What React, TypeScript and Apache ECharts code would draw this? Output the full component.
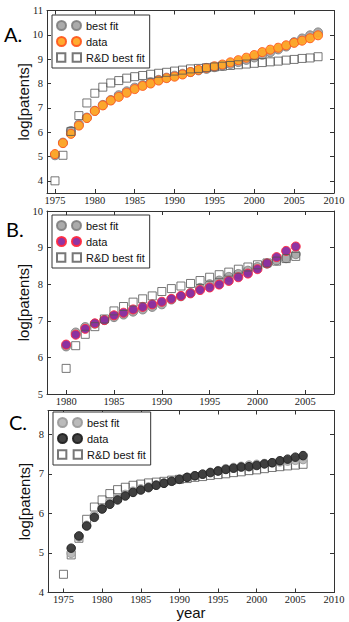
import React, { useEffect, useRef } from 'react';
import * as echarts from 'echarts';

// Panel A
const yearsA = [1975, 1976, 1977, 1978, 1979, 1980, 1981, 1982, 1983, 1984, 1985, 1986, 1987, 1988, 1989, 1990, 1991, 1992, 1993, 1994, 1995, 1996, 1997, 1998, 1999, 2000, 2001, 2002, 2003, 2004, 2005, 2006, 2007, 2008];
const bestFitA = [5.05, 5.57, 6.05, 6.32, 6.6, 6.88, 7.12, 7.32, 7.52, 7.68, 7.83, 7.94, 8.05, 8.15, 8.24, 8.32, 8.4, 8.47, 8.54, 8.6, 8.67, 8.73, 8.8, 8.88, 8.97, 9.07, 9.18, 9.28, 9.4, 9.52, 9.7, 9.85, 9.98, 10.1];
const dataA = [5.1, 5.55, 5.93, 6.27, 6.58, 6.87, 7.1, 7.3, 7.45, 7.62, 7.77, 7.9, 8.0, 8.12, 8.22, 8.28, 8.37, 8.47, 8.56, 8.64, 8.71, 8.78, 8.87, 8.96, 9.06, 9.17, 9.29, 9.39, 9.47, 9.57, 9.67, 9.76, 9.86, 9.98];
const rdA = [4.0, 5.05, 6.03, 6.68, 7.2, 7.6, 7.85, 8.02, 8.12, 8.22, 8.28, 8.33, 8.38, 8.42, 8.46, 8.51, 8.55, 8.6, 8.62, 8.65, 8.68, 8.71, 8.74, 8.77, 8.8, 8.83, 8.86, 8.89, 8.92, 8.96, 8.99, 9.03, 9.05, 9.1];

// Panel B
const yearsB = [1980, 1981, 1982, 1983, 1984, 1985, 1986, 1987, 1988, 1989, 1990, 1991, 1992, 1993, 1994, 1995, 1996, 1997, 1998, 1999, 2000, 2001, 2002, 2003, 2004];
const bestFitB = [6.3, 6.68, 6.83, 6.92, 7.02, 7.1, 7.17, 7.25, 7.31, 7.38, 7.45, 7.58, 7.67, 7.76, 7.9, 8.0, 8.1, 8.2, 8.28, 8.37, 8.47, 8.56, 8.65, 8.71, 8.82];
const dataB = [6.35, 6.62, 6.78, 6.93, 7.02, 7.15, 7.22, 7.31, 7.38, 7.45, 7.52, 7.6, 7.68, 7.75, 7.84, 7.91, 7.99, 8.09, 8.19, 8.29, 8.41, 8.57, 8.74, 8.91, 9.03];
const rdB = [5.7, 6.32, 6.63, 6.84, 7.05, 7.27, 7.39, 7.51, 7.6, 7.68, 7.8, 7.88, 7.95, 8.02, 8.1, 8.19, 8.26, 8.33, 8.41, 8.47, 8.53, 8.58, 8.63, 8.7, 8.76];

// Panel C
const yearsC = [1976, 1977, 1978, 1979, 1980, 1981, 1982, 1983, 1984, 1985, 1986, 1987, 1988, 1989, 1990, 1991, 1992, 1993, 1994, 1995, 1996, 1997, 1998, 1999, 2000, 2001, 2002, 2003, 2004, 2005, 2006];
const bestFitC = [4.99, 5.4, 5.7, 5.95, 6.14, 6.28, 6.39, 6.48, 6.56, 6.62, 6.67, 6.72, 6.77, 6.82, 6.86, 6.91, 6.95, 6.99, 7.04, 7.08, 7.13, 7.16, 7.19, 7.22, 7.24, 7.26, 7.28, 7.3, 7.32, 7.34, 7.36];
const dataC = [5.12, 5.43, 5.68, 5.9, 6.11, 6.23, 6.34, 6.44, 6.53, 6.59, 6.65, 6.71, 6.76, 6.81, 6.86, 6.91, 6.95, 6.99, 7.03, 7.07, 7.11, 7.14, 7.17, 7.18, 7.21, 7.25, 7.28, 7.33, 7.37, 7.42, 7.46];
const yearsRdC = [1975, 1976, 1977, 1978, 1979, 1980, 1981, 1982, 1983, 1984, 1985, 1986, 1987, 1988, 1989, 1990, 1991, 1992, 1993, 1994, 1995, 1996, 1997, 1998, 1999, 2000, 2001, 2002, 2003, 2004, 2005, 2006];
const rdC = [4.46, 4.95, 5.37, 5.85, 6.16, 6.34, 6.5, 6.6, 6.66, 6.71, 6.74, 6.77, 6.79, 6.81, 6.84, 6.86, 6.88, 6.91, 6.93, 6.96, 6.98, 7.0, 7.03, 7.05, 7.08, 7.1, 7.13, 7.16, 7.18, 7.2, 7.22, 7.24];

// Tick labels
const xTicksA = [1975, 1980, 1985, 1990, 1995, 2000, 2005, 2010];
const yTicksA = [4, 5, 6, 7, 8, 9, 10, 11];
const xTicksB = [1980, 1985, 1990, 1995, 2000, 2005];
const yTicksB = [5, 6, 7, 8, 9, 10];
const xTicksC = [1975, 1980, 1985, 1990, 1995, 2000, 2005, 2010];
const yTicksC = [4, 5, 6, 7, 8];

const legendNames = ['best fit', 'data', 'R&D best fit'];

const AXIS_COLOR = '#333';
const LABEL_FONT = 'Liberation Serif';

const twoCircles = 'path://M0,4.5A4.5,4.5 0 1,1 9,4.5A4.5,4.5 0 1,1 0,4.5Z M15,4.5A4.5,4.5 0 1,1 24,4.5A4.5,4.5 0 1,1 15,4.5Z';
const twoSquares = 'path://M0.5,0.5L8.5,0.5L8.5,8.5L0.5,8.5Z M15.5,0.5L23.5,0.5L23.5,8.5L15.5,8.5Z';

function pairs(xs: number[], ys: number[]) {
  return xs.map((x, i) => [x, ys[i]]);
}

function makeAxes(grid: number, xmin: number, xmax: number, xt: number[], ymin: number, ymax: number, yt: number[], xName?: string) {
  const tick = (vals: number[]) => ({ show: true, inside: true, length: 4, customValues: vals, lineStyle: { color: AXIS_COLOR, width: 1 } });
  const line = { show: true, lineStyle: { color: AXIS_COLOR, width: 1 } };
  const xs: any[] = [
    {
      type: 'value', gridIndex: grid, min: xmin, max: xmax, position: 'bottom',
      axisLine: line, axisTick: tick(xt), splitLine: { show: false },
      axisLabel: { customValues: xt, margin: 2, lineHeight: 10, fontFamily: LABEL_FONT, fontSize: 10.5, color: '#222', formatter: (v: number) => String(v) },
      name: xName, nameLocation: 'middle', nameGap: 13, nameMoveOverlap: false,
      nameTextStyle: { fontFamily: 'Liberation Sans', fontSize: 15, lineHeight: 14, color: '#111' },
    },
    {
      type: 'value', gridIndex: grid, min: xmin, max: xmax, position: 'top',
      axisLine: line, axisTick: tick(xt), splitLine: { show: false }, axisLabel: { show: false },
    },
  ];
  const ys: any[] = [
    {
      type: 'value', gridIndex: grid, min: ymin, max: ymax, position: 'left',
      axisLine: line, axisTick: tick(yt), splitLine: { show: false },
      axisLabel: { customValues: yt, margin: 4, fontFamily: LABEL_FONT, fontSize: 10.5, color: '#222', formatter: (v: number) => String(v) },
      name: 'log[patents]', nameLocation: 'middle', nameGap: 16, nameMoveOverlap: false,
      nameTextStyle: { fontFamily: 'Liberation Sans', fontSize: 15, color: '#111' },
    },
    {
      type: 'value', gridIndex: grid, min: ymin, max: ymax, position: 'right',
      axisLine: line, axisTick: tick(yt), splitLine: { show: false }, axisLabel: { show: false },
    },
  ];
  return { xs, ys };
}

function circleSeries(name: string, axisIdx: number, d: number[][], fill: string, edge: string, opacity: number, size = 9) {
  return {
    type: 'scatter', name, xAxisIndex: axisIdx, yAxisIndex: axisIdx, data: d,
    symbol: 'circle', symbolSize: size,
    itemStyle: { color: fill, borderColor: edge, borderWidth: 1, opacity },
    emphasis: { disabled: true },
  };
}

function squareSeries(name: string, axisIdx: number, d: number[][]) {
  return {
    type: 'scatter', name, xAxisIndex: axisIdx, yAxisIndex: axisIdx, data: d,
    symbol: 'rect', symbolSize: 8,
    itemStyle: { color: 'rgba(255,255,255,0)', borderColor: '#555', borderWidth: 1 },
    emphasis: { disabled: true },
  };
}

function makeLegend(prefix: string, left: number, top: number) {
  return {
    orient: 'vertical', left, top,
    data: [
      { name: prefix + ':' + legendNames[0], icon: twoCircles },
      { name: prefix + ':' + legendNames[1], icon: twoCircles },
      { name: prefix + ':' + legendNames[2], icon: twoSquares },
    ],
    formatter: (n: string) => n.split(':')[1],
    itemWidth: 24, itemHeight: 9, itemGap: 5,
    padding: [5, 5, 5, 4],
    borderColor: '#333', borderWidth: 1, backgroundColor: '#fff', borderRadius: 0,
    textStyle: { fontFamily: 'Liberation Sans', fontSize: 11, color: '#111' },
    selectedMode: false,
  };
}

export default function App() {
  const ref = useRef<HTMLDivElement>(null);
  useEffect(() => {
    if (!ref.current) return;
    const chart = echarts.init(ref.current, null, { renderer: 'svg' });
    const a = makeAxes(0, 1974, 2010, xTicksA, 3.5, 11, yTicksA);
    const b = makeAxes(1, 1978, 2008, xTicksB, 5, 10, yTicksB);
    const c = makeAxes(2, 1973, 2010, xTicksC, 4, 8.6, yTicksC, 'year');
    const option: any = {
      animation: false,
      backgroundColor: '#fff',
      grid: [
        { left: 47, top: 10.5, width: 287, height: 182.5 },
        { left: 47, top: 211, width: 287, height: 183 },
        { left: 48, top: 410.5, width: 286, height: 182 },
      ],
      xAxis: [...a.xs, ...b.xs, ...c.xs],
      yAxis: [...a.ys, ...b.ys, ...c.ys],
      legend: [makeLegend('A', 52, 15), makeLegend('B', 52, 215), makeLegend('C', 53, 412)],
      series: [
        circleSeries('A:best fit', 0, pairs(yearsA, bestFitA), '#9c9c9c', '#7a7a7a', 0.85),
        circleSeries('A:data', 0, pairs(yearsA, dataA), '#ffa726', '#ff5a1f', 0.95),
        squareSeries('A:R&D best fit', 0, pairs(yearsA, rdA)),
        circleSeries('B:best fit', 2, pairs(yearsB, bestFitB), '#9c9c9c', '#7a7a7a', 0.85),
        circleSeries('B:data', 2, pairs(yearsB, dataB), '#8a2a9e', '#ff2a40', 0.95),
        squareSeries('B:R&D best fit', 2, pairs(yearsB, rdB)),
        squareSeries('C:R&D best fit', 4, pairs(yearsRdC, rdC)),
        circleSeries('C:best fit', 4, pairs(yearsC, bestFitC), '#b4b4b4', '#999999', 0.9, 8.5),
        circleSeries('C:data', 4, pairs(yearsC, dataC), '#383838', '#222222', 0.95, 8.5),
      ],
      graphic: [
        { type: 'text', left: 4, top: 24, style: { text: 'A.', font: '20px Lato', fill: '#000' } },
        { type: 'text', left: 6, top: 219, style: { text: 'B.', font: '20px Lato', fill: '#000' } },
        { type: 'text', left: 9, top: 412, style: { text: 'C.', font: '20px Lato', fill: '#000' } },
      ],
    };
    chart.setOption(option);
    return () => chart.dispose();
  }, []);
  return <div ref={ref} style={{ position: 'fixed', left: 0, top: 0, width: 349, height: 622 }} />;
}
